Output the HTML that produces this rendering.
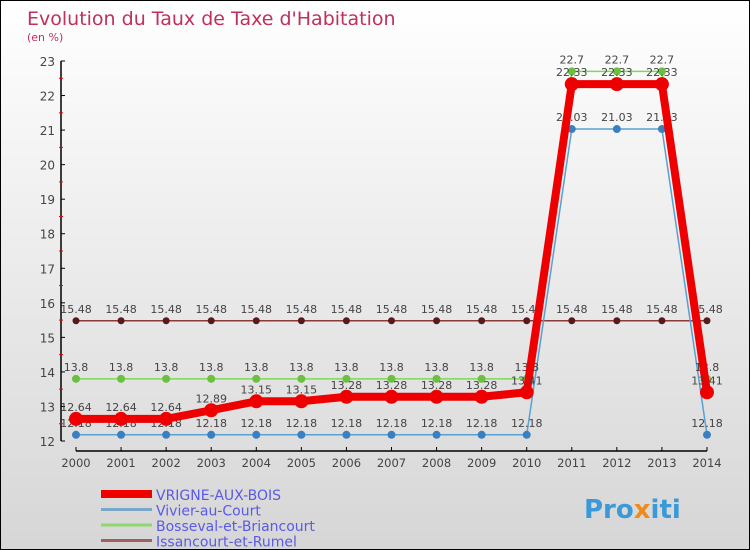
<!DOCTYPE html>
<html><head><meta charset="utf-8"><style>
body{margin:0}
#c{position:relative;width:748px;height:548px;border:1px solid #000;background:linear-gradient(#fff,#d6d6d6);font-family:"DejaVu Sans","Liberation Sans",sans-serif;overflow:hidden}
svg text{font-family:"DejaVu Sans","Liberation Sans",sans-serif}
</style></head><body>
<div id="c">
<svg id="s" width="748" height="548" xmlns="http://www.w3.org/2000/svg">
<text x="26" y="24" font-size="19" fill="#c0305a">Evolution du Taux de Taxe d'Habitation</text>
<text x="26" y="40" font-size="11" fill="#c0305a">(en %)</text>
<text x="583" y="517" font-size="26" font-weight="bold" fill="#3a9ad9">Pro<tspan fill="#f08a1c">x</tspan>iti</text>
</svg>
</div>
<script>
const years=[2000,2001,2002,2003,2004,2005,2006,2007,2008,2009,2010,2011,2012,2013,2014];
const yTicks=[12,13,14,15,16,17,18,19,20,21,22,23];
const vrigne=[12.64,12.64,12.64,12.89,13.15,13.15,13.28,13.28,13.28,13.28,13.41,22.33,22.33,22.33,13.41];
const vivier=[12.18,12.18,12.18,12.18,12.18,12.18,12.18,12.18,12.18,12.18,12.18,21.03,21.03,21.03,12.18];
const bosseval=[13.8,13.8,13.8,13.8,13.8,13.8,13.8,13.8,13.8,13.8,13.8,22.7,22.7,22.7,13.8];
const issancourt=[15.48,15.48,15.48,15.48,15.48,15.48,15.48,15.48,15.48,15.48,15.48,15.48,15.48,15.48,15.48];
const names=["VRIGNE-AUX-BOIS","Vivier-au-Court","Bosseval-et-Briancourt","Issancourt-et-Rumel"];
const s=document.getElementById('s');const NS="http://www.w3.org/2000/svg";
function X(i){return 75+i*(706-75)/(years.length-1);}
function Y(v){return 440-(v-12)*(440-60)/11;}
function mk(t,a,p){const e=document.createElementNS(NS,t);for(const k in a)e.setAttribute(k,a[k]);(p||s).appendChild(e);return e;}
let ax=mk('line',{x1:60,y1:60,x2:60,y2:440,stroke:'#000','stroke-width':1.5});


let xa=mk('line',{x1:75,y1:450,x2:706,y2:450,stroke:'#000','stroke-width':1.5});


yTicks.forEach(v=>{mk('line',{x1:60,y1:Y(v),x2:64,y2:Y(v),stroke:'#000'});
if(v<23)mk('line',{x1:58,y1:Y(v+0.5),x2:62,y2:Y(v+0.5),stroke:'#e00'});
const t=mk('text',{x:54,y:Y(v)+5,'font-size':12,fill:'#444','text-anchor':'end'});t.textContent=v;

});
years.forEach((y,i)=>{mk('line',{x1:X(i),y1:446,x2:X(i),y2:450,stroke:'#000'});
const t=mk('text',{x:X(i),y:466,'font-size':11.5,fill:'#444','text-anchor':'middle'});t.textContent=y;

});
function series(d,col,w,r,dot,name){
const g=mk('g',{});
mk('polyline',{points:d.map((v,i)=>X(i)+','+Y(v)).join(' '),fill:'none',stroke:col,'stroke-width':w},g);
d.forEach((v,i)=>{const c=mk('circle',{cx:X(i),cy:Y(v),r:r,fill:dot},g);


const t=mk('text',{x:X(i),y:Y(v)-8,'font-size':11,fill:'#444','text-anchor':'middle'},g);t.textContent=v;});}
series(issancourt,'#8b3a3a',1.5,3.5,'#5a1a1a','issancourt-series');
series(vivier,'#5aa0d0',1.5,4,'#3a80c0','vivier-series');
series(bosseval,'#7ed957',1.5,4,'#6cc040','bosseval-series');
series(vrigne,'#ee0000',8,7,'#ee0000','vrigne-series');
const lc=['#ee0000','#7aa6c8','#8ed870','#a06060'],lw=[8,3,3,3];
names.forEach((n,i)=>{const y=493+i*15.5;
mk('line',{x1:100,y1:y,x2:151,y2:y,stroke:lc[i],'stroke-width':lw[i]});
const t=mk('text',{x:155,y:y+6,'font-size':14,fill:'#5a5ae6'});t.textContent=n;

});
</script>
</body></html>
